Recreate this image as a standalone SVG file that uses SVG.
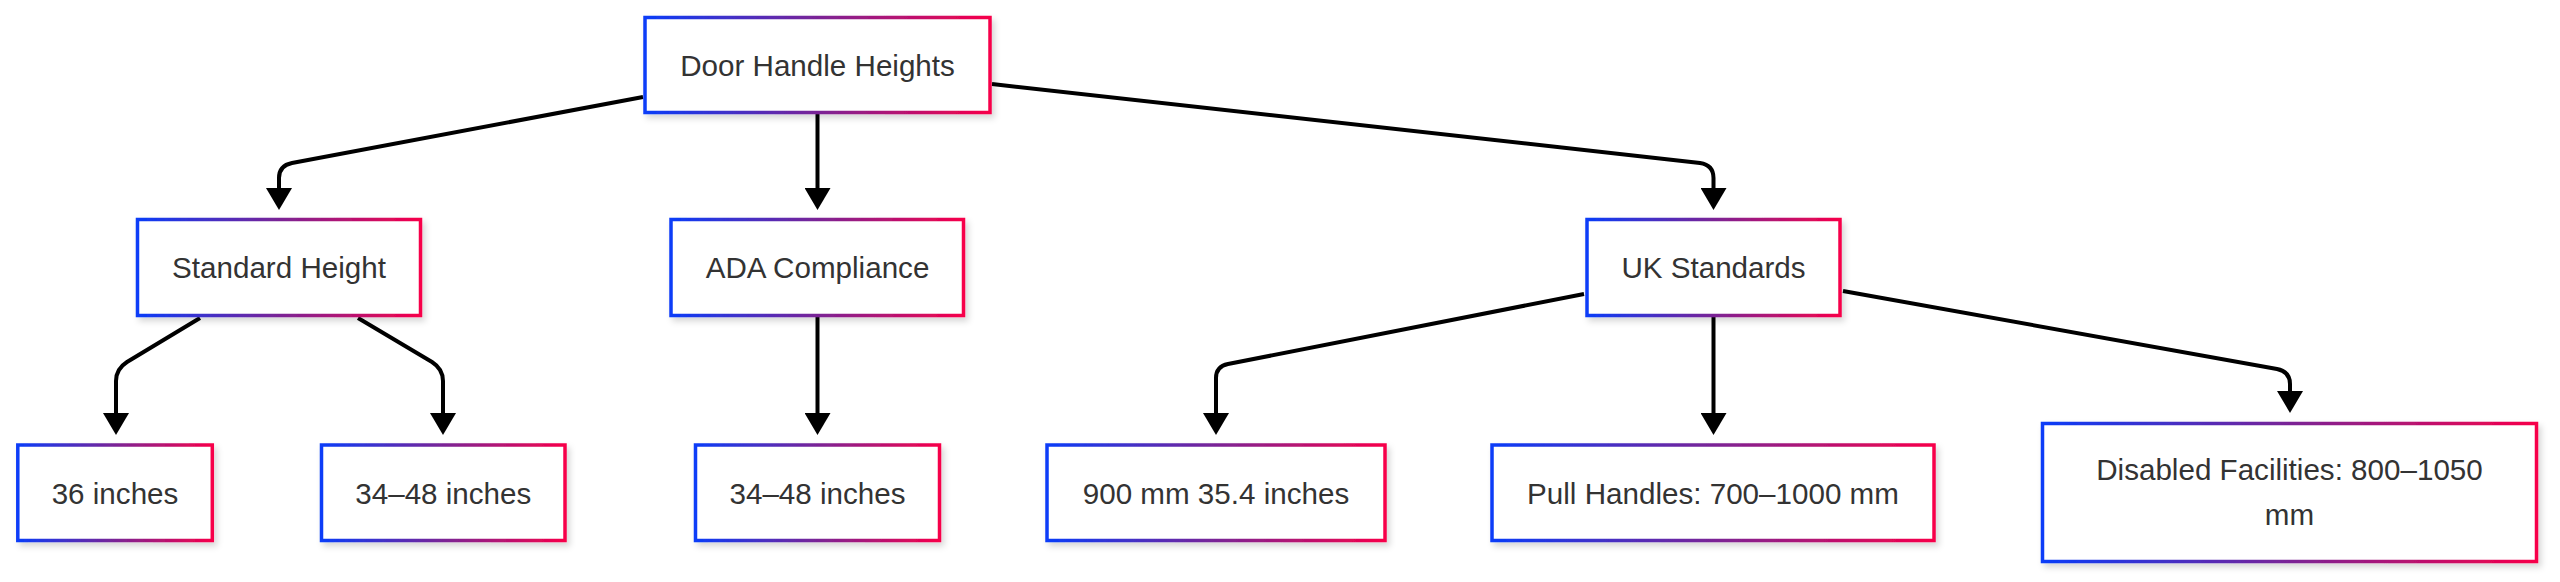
<svg xmlns="http://www.w3.org/2000/svg" width="2560" height="582" viewBox="0 0 2560 582">
<style>
.node rect{fill:#ffffff;stroke:url(#grad);stroke-width:3.5;filter:url(#shadow);}
.node text{font-family:"Liberation Sans",Arial,Helvetica,sans-serif;font-size:29.6px;fill:#333333;text-anchor:middle;}
.edges path{fill:none;stroke:#000000;stroke-width:4;marker-end:url(#arrow);}
</style>
<defs>
<linearGradient id="grad" x1="0" y1="0" x2="1" y2="0">
<stop offset="0" stop-color="#0a3cf8"/>
<stop offset="0.5" stop-color="#7a2496"/>
<stop offset="1" stop-color="#f7004a"/>
</linearGradient>
<filter id="shadow" x="-10%" y="-20%" width="125%" height="150%">
<feDropShadow dx="3" dy="4" stdDeviation="3" flood-color="#000000" flood-opacity="0.16"/>
</filter>
<marker id="arrow" markerUnits="userSpaceOnUse" viewBox="0 0 22 26" refX="11" refY="13" markerWidth="22" markerHeight="26" orient="auto">
<polygon points="0,0 22,13 0,26" fill="#000000"/>
</marker>
</defs>
<g id="edges" class="edges">
<path id="e-top-standard" d="M643,97 L292,163 Q279,165.5 279,178 L279,199"/>
<path id="e-top-ada" d="M817.5,114 L817.5,199"/>
<path id="e-top-uk" d="M992,84 L1700,163 Q1713.5,165 1713.5,178 L1713.5,199"/>
<path id="e-standard-36" d="M200,318 L127,362 Q116,369 116,381 L116,424"/>
<path id="e-standard-3448" d="M358,318 L432,362 Q443,369 443,381 L443,424"/>
<path id="e-ada-3448" d="M817.5,317 L817.5,424"/>
<path id="e-uk-900" d="M1584,294 L1228,364 Q1216,366.5 1216,378 L1216,424"/>
<path id="e-uk-pull" d="M1713.5,317 L1713.5,424"/>
<path id="e-uk-disabled" d="M1843,291 L2277,369 Q2290,371.5 2290,384 L2290,402"/>
</g>
<g id="n-top" class="node">
<rect x="645" y="17.5" width="345" height="95"/>
<text x="817.5" y="75.5">Door Handle Heights</text>
</g>
<g id="n-standard" class="node">
<rect x="137.5" y="219.5" width="283" height="96"/>
<text x="279" y="278">Standard Height</text>
</g>
<g id="n-ada" class="node">
<rect x="671" y="219.5" width="292.5" height="96"/>
<text x="817.5" y="278">ADA Compliance</text>
</g>
<g id="n-uk" class="node">
<rect x="1587" y="219.5" width="253" height="96"/>
<text x="1713.5" y="278">UK Standards</text>
</g>
<g id="n-36" class="node">
<rect x="17.8" y="445" width="194.5" height="95.5"/>
<text x="115" y="503.5">36 inches</text>
</g>
<g id="n-3448a" class="node">
<rect x="321.5" y="445" width="243.5" height="95.5"/>
<text x="443.3" y="503.5">34–48 inches</text>
</g>
<g id="n-3448b" class="node">
<rect x="695.5" y="445" width="244" height="95.5"/>
<text x="817.5" y="503.5">34–48 inches</text>
</g>
<g id="n-900" class="node">
<rect x="1047" y="445" width="338" height="95.5"/>
<text x="1216" y="503.5">900 mm 35.4 inches</text>
</g>
<g id="n-pull" class="node">
<rect x="1492" y="445" width="442" height="95.5"/>
<text x="1713" y="503.5">Pull Handles: 700–1000 mm</text>
</g>
<g id="n-disabled" class="node">
<rect x="2042.5" y="423.5" width="494" height="138"/>
<text x="2289.5" y="480">Disabled Facilities: 800–1050</text>
<text x="2289.5" y="525">mm</text>
</g>
</svg>
